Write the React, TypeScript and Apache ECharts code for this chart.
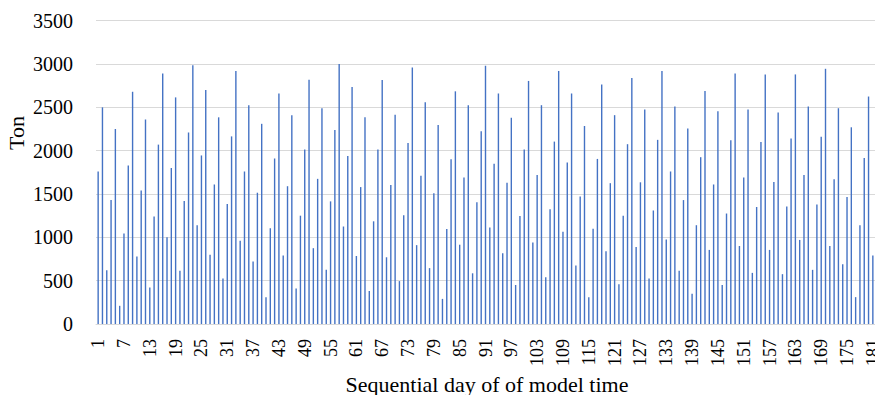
import React, { useEffect, useRef } from "react";
import * as echarts from "echarts";

const days: string[] = Array.from({ length: 181 }, (_, i) => String(i + 1));

const tons: number[] = [
  1760, 2500, 620, 1430, 2250, 210, 1045, 1830, 2680, 780, 1540, 2360, 420, 1240, 2070, 2890, 1000, 1800, 2615, 615, 1420, 2210, 2985,
  1140, 1945, 2700, 800, 1610, 2385, 525, 1385, 2165, 2920, 960, 1760, 2525, 720, 1515, 2310, 310, 1105, 1910, 2660, 790, 1590, 2410,
  410, 1250, 2015, 2820, 875, 1675, 2490, 625, 1415, 2240, 3000, 1125, 1940, 2735, 785, 1580, 2385, 380, 1185, 2015, 2815, 770, 1605, 2415,
  495, 1255, 2090, 2960, 910, 1710, 2560, 645, 1510, 2295, 290, 1095, 1900, 2685, 915, 1690, 2525, 585, 1405, 2225, 2980, 1115, 1850,
  2660, 815, 1630, 2380, 450, 1245, 2015, 2805, 940, 1720, 2525, 540, 1325, 2105, 2920, 1065, 1865, 2660, 675, 1470, 2285, 310, 1100,
  1905, 2765, 840, 1625, 2410, 460, 1250, 2075, 2840, 890, 1635, 2475, 525, 1310, 2125, 2920, 975, 1760, 2510, 615, 1430, 2255, 350,
  1140, 1925, 2690, 855, 1610, 2455, 450, 1275, 2120, 2890, 900, 1690, 2475, 590, 1350, 2100, 2880, 855, 1640, 2440, 575, 1355, 2140, 2880,
  970, 1720, 2510, 625, 1380, 2160, 2945, 900, 1670, 2490, 690, 1465, 2270, 310, 1140, 1915, 2625, 790,
];

const yTicks = { min: 0, max: 3500, interval: 500 };

const FONT = "Liberation Serif";

export default function App() {
  const ref = useRef<HTMLDivElement>(null);
  useEffect(() => {
    if (!ref.current) return;
    const chart = echarts.init(ref.current, undefined, { renderer: "svg" });
    chart.setOption({
      animation: false,
      backgroundColor: "#ffffff",
      textStyle: { fontFamily: FONT, color: "#000" },
      grid: { left: 96, right: 0, top: 20.7, bottom: 71, containLabel: false, outerBoundsMode: "none" },
      xAxis: {
        type: "category",
        data: days,
        boundaryGap: true,
        axisLine: { show: true, lineStyle: { color: "#d9d9d9", width: 1 } },
        axisTick: { show: false },
        axisLabel: {
          interval: 5,
          rotate: 90,
          margin: 15,
          fontFamily: FONT,
          fontSize: 18,
          color: "#000",
        },
        splitLine: { show: false },
      },
      yAxis: {
        type: "value",
        min: yTicks.min,
        max: yTicks.max,
        interval: yTicks.interval,
        axisLine: { show: false },
        axisTick: { show: false },
        axisLabel: {
          margin: 23,
          fontFamily: FONT,
          fontSize: 20,
          color: "#000",
          formatter: (v: number) => String(v),
        },
        splitLine: { show: true, lineStyle: { color: "#d9d9d9", width: 1 } },
      },
      graphic: [
        {
          type: "text",
          x: 16,
          y: 133,
          rotation: Math.PI / 2,
          style: {
            text: "Ton",
            fontFamily: FONT,
            fontSize: 22,
            fill: "#000",
            align: "center",
            verticalAlign: "middle",
          },
        },
        {
          type: "text",
          x: 487,
          y: 384,
          style: {
            text: "Sequential day of of model time",
            fontFamily: FONT,
            fontSize: 22,
            fill: "#000",
            align: "center",
            verticalAlign: "middle",
          },
        },
      ],
      series: [
        {
          type: "bar",
          data: tons,
          barWidth: 1.4,
          itemStyle: { color: "#4472C4" },
        },
      ],
    });
    return () => chart.dispose();
  }, []);
  return <div ref={ref} style={{ width: 875, height: 395, position: "absolute", left: 0, top: 0 }} />;
}
